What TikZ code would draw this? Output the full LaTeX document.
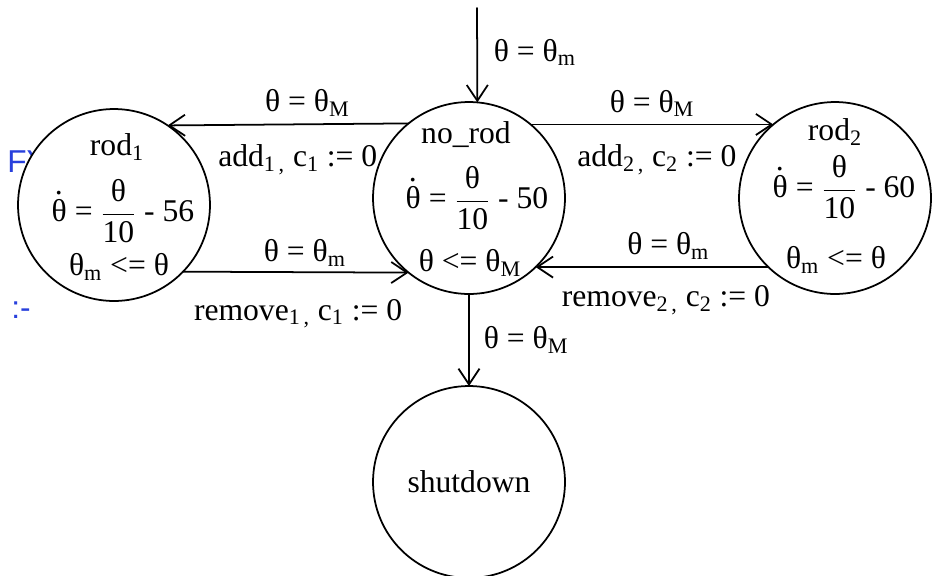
\documentclass[tikz,border=0pt]{standalone}
\usepackage{fontspec}
\usepackage{amsmath}
\setmainfont{Liberation Serif}
\newfontfamily\strayfont{Liberation Sans}
\usetikzlibrary{arrows.meta}
\definecolor{strayblue}{RGB}{40,64,220}
\newcommand{\thdot}{θ\llap{\raisebox{0.85em}{.}\kern0.125em}}

\begin{document}
\begin{tikzpicture}[
      x=0.02cm, y=-0.02cm,
      line cap=round,
      line join=round,
      every node/.style={font=\fontsize{18}{21}\selectfont, inner sep=2pt},
      state/.style={circle, draw, line width=1pt, fill=white,
        minimum size=3.84cm, inner sep=0pt, outer sep=0pt},
      trans/.style={line width=1pt,
        -{Straight Barb[length=9pt, width=12pt, line width=1pt]}},
    ]
    \useasboundingbox (0,0) rectangle (939,575);
    %% Stray blue text, partly hidden behind rod_1.
    \node[strayblue, font=\strayfont\fontsize{18}{21}\selectfont,
      anchor=base west, inner sep=0pt] (stray1) at (7,172) {FY};
    \node[strayblue, font=\strayfont\fontsize{18}{21}\selectfont,
      anchor=base west, inner sep=0pt] (stray2) at (11,318) {:-};
    %% Locations.
    \node[state] (rod1)     at (114,205) {};
    \node[state] (norod)    at (469,198) {};
    \node[state] (rod2)     at (835,198) {};
    \node[state] (shutdown) at (469,482) {shutdown};
    %% Names, flows and invariants.
    \node (rod1-name)  at ([shift={(3,-58)}]rod1.center)  {rod\textsubscript{1}};
    \node (rod1-flow)  at ([shift={(9,6)}]rod1.center)    {\thdot{} = $\dfrac{\text{θ}}{\text{10}}$ - 56};
    \node (rod1-inv)   at ([shift={(5,62)}]rod1.center)   {θ\textsubscript{m} <= θ};
    \node (norod-name) at ([shift={(-3,-63)}]norod.center) {no\_rod};
    \node (norod-flow) at ([shift={(8,0)}]norod.center)   {\thdot{} = $\dfrac{\text{θ}}{\text{10}}$ - 50};
    \node (norod-inv)  at ([shift={(1,65)}]norod.center)  {θ <= θ\textsubscript{M}};
    \node (rod2-name)  at ([shift={(0,-66)}]rod2.center)  {rod\textsubscript{2}};
    \node (rod2-flow)  at ([shift={(9,-11)}]rod2.center)  {\thdot{} = $\dfrac{\text{θ}}{\text{10}}$ - 60};
    \node (rod2-inv)   at ([shift={(1,62)}]rod2.center)   {θ\textsubscript{m} <= θ};
    %% Initial edge.
    \coordinate (init) at (477,8);
    \draw[trans] (init) -- (norod.85)
      node[pos=0.47, right=7pt] {θ = θ\textsubscript{m}};
    %% Edges between the locations.
    \draw[trans] (norod.129.6) -- (rod1.56.6)
      node[pos=0.42, above=2pt] {θ = θ\textsubscript{M}}
      node[pos=0.46, below=9pt] {add\textsubscript{1\,,} c\textsubscript{1} := 0};
    \draw[trans] (rod1.-44.5) -- (norod.231.4)
      node[pos=0.54, above=1pt] {θ = θ\textsubscript{m}}
      node[pos=0.51, below=13pt] {remove\textsubscript{1\,,} c\textsubscript{1} := 0};
    \draw[trans] (norod.50.4) -- (rod2.130.3)
      node[pos=0.50, above=2pt] {θ = θ\textsubscript{M}}
      node[pos=0.52, below=9pt] {add\textsubscript{2\,,} c\textsubscript{2} := 0};
    \draw[trans] (rod2.226.2) -- (norod.-46.8)
      node[pos=0.43, above=2pt] {θ = θ\textsubscript{m}}
      node[pos=0.44, below=8pt] {remove\textsubscript{2\,,} c\textsubscript{2} := 0};
    \draw[trans] (norod.south) -- (shutdown.north)
      node[midway, right=6pt] {θ = θ\textsubscript{M}};
  \end{tikzpicture}
\end{document}
